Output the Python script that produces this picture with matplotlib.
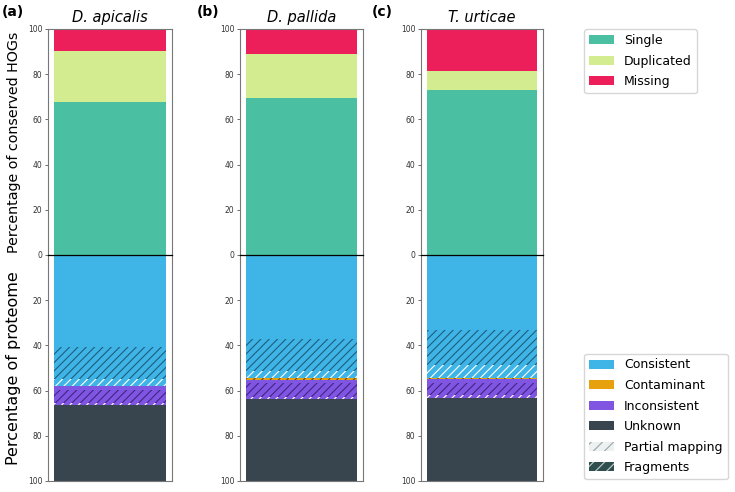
import matplotlib
matplotlib.use("Agg")
import matplotlib.pyplot as plt
from matplotlib.patches import Patch

plt.rcParams['hatch.linewidth'] = 0.8

species = ['D. apicalis', 'D. pallida', 'T. urticae']
panel_labels = ['(a)', '(b)', '(c)']

# Conserved HOGs (percent)
single = [67.7, 69.5, 73.2]
duplicated = [22.6, 19.6, 8.2]
missing = [9.7, 10.9, 18.6]

# Proteome (percent), stacked from 0 downwards
consistent = [40.8, 37.3, 33.2]
consistent_fragments = [14.2, 14.0, 15.5]
consistent_partial = [3.0, 3.0, 5.9]
contaminant = [0.0, 1.0, 0.1]
inconsistent = [1.7, 1.5, 2.1]
inconsistent_fragments = [5.9, 5.9, 5.1]
inconsistent_partial = [0.9, 1.1, 1.2]
unknown = [33.5, 36.2, 36.9]

C_SINGLE = '#4bbfa1'
C_DUP = '#d2ec8f'
C_MISS = '#ec1f5b'
C_CONS = '#3fb4e6'
C_CONT = '#e8a10e'
C_INC = '#7f55e2'
C_UNK = '#38454f'
FRAG_HATCH_BLUE = '#1f5d7d'
FRAG_HATCH_PURPLE = '#3f2585'
FRAG_HATCH_CONT = '#6b4a05'

fig = plt.figure(figsize=(7.35, 4.92), dpi=100)

lefts = [48, 240, 421]
rights = [172, 363, 543]
W, H = 735.0, 492.0
y_top, y_mid, y_bot = 29, 255, 481

spine_col = '#777777'

for i in range(3):
    l = lefts[i] / W
    w = (rights[i] - lefts[i]) / W
    ax_t = fig.add_axes([l, 1 - y_mid / H, w, (y_mid - y_top) / H])
    ax_b = fig.add_axes([l, 1 - y_bot / H, w, (y_bot - y_mid) / H])

    # top: conserved HOGs
    b = 0
    for val, col in [(single[i], C_SINGLE), (duplicated[i], C_DUP), (missing[i], C_MISS)]:
        ax_t.bar(0, val, bottom=b, width=1.0, color=col, linewidth=0)
        b += val
    ax_t.set_ylim(0, 100)
    ax_t.set_xlim(-0.55, 0.55)
    ax_t.set_yticks([20, 40, 60, 80, 100])

    # bottom: proteome
    segs = [
        (consistent[i], C_CONS, None, None),
        (consistent_fragments[i], C_CONS, '////', FRAG_HATCH_BLUE),
        (consistent_partial[i], C_CONS, '////', 'white'),
        (contaminant[i], C_CONT, '////', FRAG_HATCH_CONT),
        (inconsistent[i], C_INC, None, None),
        (inconsistent_fragments[i], C_INC, '////', FRAG_HATCH_PURPLE),
        (inconsistent_partial[i], C_INC, '////', 'white'),
        (unknown[i], C_UNK, None, None),
    ]
    b = 0
    for val, col, hatch, hcol in segs:
        if val <= 0:
            continue
        if hatch:
            ax_b.bar(0, val, bottom=b, width=1.0, color=col, hatch=hatch,
                     edgecolor=hcol, linewidth=0)
        else:
            ax_b.bar(0, val, bottom=b, width=1.0, color=col, linewidth=0)
        b += val
    ax_b.set_ylim(100, 0)
    ax_b.set_xlim(-0.55, 0.55)
    ax_b.set_yticks([0, 20, 40, 60, 80, 100])

    for ax in (ax_t, ax_b):
        ax.set_xticks([])
        ax.tick_params(axis='y', labelsize=5.5, length=2.5, width=0.6,
                       colors='#555555', labelcolor='#333333', pad=1.5)
        for s in ax.spines.values():
            s.set_color(spine_col)
            s.set_linewidth(0.8)
    ax_t.spines['bottom'].set_visible(False)
    ax_b.spines['top'].set_color('black')
    ax_b.spines['top'].set_linewidth(0.9)
    ax_b.spines['top'].set_zorder(5)

    ax_t.set_title(species[i], fontsize=10.5, style='italic', pad=5)

    if i == 0:
        ax_t.set_ylabel('Percentage of conserved HOGs', fontsize=10.3, labelpad=5)
        ax_b.set_ylabel('Percentage of proteome', fontsize=11.5, labelpad=5)

label_x = [2, 197, 372]
for i in range(3):
    fig.text(label_x[i] / W, 1 - 12 / H, panel_labels[i], fontsize=10,
             fontweight='bold', ha='left', va='center')

h_top = [Patch(facecolor=C_SINGLE, label='Single'),
         Patch(facecolor=C_DUP, label='Duplicated'),
         Patch(facecolor=C_MISS, label='Missing')]
fig.legend(handles=h_top, loc='upper left', bbox_to_anchor=(584 / W, 1 - 29 / H),
           borderaxespad=0, fontsize=9, labelspacing=0.6, frameon=True)

h_bot = [Patch(facecolor=C_CONS, label='Consistent'),
         Patch(facecolor=C_CONT, label='Contaminant'),
         Patch(facecolor=C_INC, label='Inconsistent'),
         Patch(facecolor=C_UNK, label='Unknown'),
         Patch(facecolor='#eef1f1', edgecolor='#9aa5a5', hatch='///', linewidth=0,
               label='Partial mapping'),
         Patch(facecolor='#2f4f4f', edgecolor='#c5d0d0', hatch='///', linewidth=0,
               label='Fragments')]
fig.legend(handles=h_bot, loc='lower left', bbox_to_anchor=(584 / W, 1 - 479 / H),
           borderaxespad=0, fontsize=9, labelspacing=0.6, frameon=True)

fig.savefig('out.png', dpi=100)
